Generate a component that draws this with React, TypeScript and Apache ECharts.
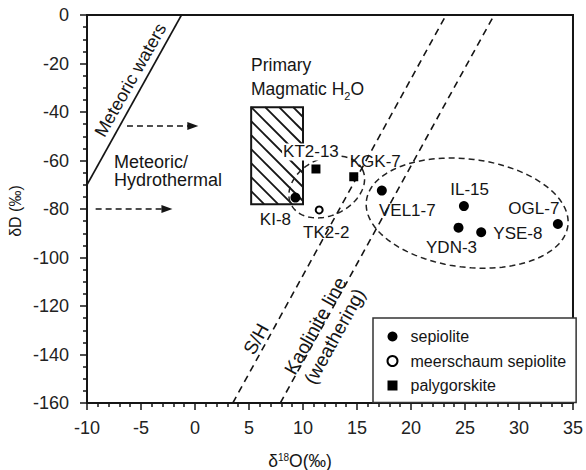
import React, { useEffect, useRef } from 'react';
import * as echarts from 'echarts';

// ---- data ----
const sepioliteNames = ['KI-8', 'VEL1-7', 'IL-15', 'YDN-3', 'YSE-8', 'OGL-7'];
const sepioliteX = [9.3, 17.3, 24.9, 24.4, 26.5, 33.6];
const sepioliteY = [-75.3, -72.4, -78.8, -87.7, -89.6, -86.2];

const meerschaumNames = ['TK2-2'];
const meerschaumX = [11.5];
const meerschaumY = [-80.4];

const palygorskiteNames = ['KT2-13', 'KGK-7'];
const palygorskiteX = [11.2, 14.7];
const palygorskiteY = [-63.5, -66.7];

const xMin = -10;
const xMax = 35;
const xStep = 5;
const yMin = -160;
const yMax = 0;
const yStep = 20;

const meteoricWaterLine = [[-10, -70], [-1.25, 0]];
const shLine = [[3.5, -160], [23.25, 0]];
const kaoliniteLine = [[7.9, -160], [27.7, 0]];
const arrowUpper = [[-6.3, -45.8], [-0.2, -45.8]];
const arrowLower = [[-9.2, -80], [-2.6, -80]];

// x0, y0, x1, y1
const primaryMagmaticBox = [5.2, -38, 10, -78];
// cx, cy, rx, ry (data units), rotation (deg)
const smallEllipse = [12.2, -70.9, 3.68, 11.75, 26];
const bigEllipse = [25.2, -81.7, 9.4, 22.3, -7];

const legendNames = ['sepiolite', 'meerschaum sepiolite', 'palygorskite'];

// ---- style / layout ----
const FONT = "'Liberation Sans', Arial, Helvetica, sans-serif";
const INK = '#151515';

const labelOffset: Record<string, number[]> = {
  'KI-8': [-20, 22],
  'KT2-13': [-5, -17],
  'KGK-7': [21.5, -15],
  'TK2-2': [7, 23],
  'VEL1-7': [25.5, 19.5],
  'IL-15': [5.7, -16.7],
  'OGL-7': [-24, -15.7],
  'YSE-8': [36.7, 1.7],
  'YDN-3': [-7, 19.6],
};

function points(names: string[], xs: number[], ys: number[]) {
  return names.map((n, i) => ({
    name: n,
    value: [xs[i], ys[i]],
    label: {
      show: true,
      position: 'inside',
      offset: labelOffset[n],
      formatter: '{b}',
      color: INK,
      opacity: 1,
      textBorderWidth: 0,
      textBorderColor: 'transparent',
      textShadowBlur: 0,
      fontSize: 17,
      fontFamily: FONT,
      ...(n === 'KT2-13' ? { backgroundColor: '#fff', padding: [0, 1, 0, 1] } : {}),
    },
  }));
}

function buildOption() {
  return {
    animation: false,
    backgroundColor: '#fff',
    grid: {
      left: 87,
      right: 10,
      top: 15,
      bottom: 67,
      show: true,
      borderColor: INK,
      borderWidth: 2,
      backgroundColor: 'transparent',
    },
    xAxis: {
      type: 'value',
      min: xMin,
      max: xMax,
      interval: xStep,
      splitLine: { show: false },
      axisLine: { show: true, onZero: false, lineStyle: { color: INK, width: 2 } },
      axisTick: { show: true, inside: false, length: 7, lineStyle: { color: INK, width: 1.5 } },
      minorTick: { show: true, splitNumber: 5, length: 4, lineStyle: { color: INK, width: 1.5 } },
      axisLabel: { margin: 16, fontSize: 18, color: '#222', fontFamily: FONT },
    },
    yAxis: {
      type: 'value',
      min: yMin,
      max: yMax,
      interval: yStep,
      splitLine: { show: false },
      axisLine: { show: true, onZero: false, lineStyle: { color: INK, width: 2 } },
      axisTick: { show: true, inside: false, length: 7, lineStyle: { color: INK, width: 1.5 } },
      minorTick: { show: true, splitNumber: 4, length: 4, lineStyle: { color: INK, width: 1.5 } },
      axisLabel: { margin: 18, fontSize: 18, color: '#222', fontFamily: FONT },
    },
    legend: {
      data: legendNames,
      orient: 'vertical',
      left: 373,
      top: 318,
      itemWidth: 10,
      itemHeight: 10,
      itemGap: 6.5,
      padding: [9.5, 10, 8, 13.5],
      borderColor: '#333',
      borderWidth: 1.5,
      backgroundColor: '#fff',
      selectedMode: false,
      textStyle: {
        fontSize: 16,
        lineHeight: 18,
        color: INK,
        fontFamily: FONT,
        padding: [0, 0, 0, 8],
      },
    },
    series: [
      {
        type: 'custom',
        name: 'Primary Magmatic H2O',
        silent: true,
        clip: false,
        z: 1,
        data: [primaryMagmaticBox],
        encode: { x: [0, 2], y: [1, 3] },
        renderItem: (params: any, api: any) => {
          const p0 = api.coord([api.value(0), api.value(1)]);
          const p1 = api.coord([api.value(2), api.value(3)]);
          const L = Math.min(p0[0], p1[0]);
          const R = Math.max(p0[0], p1[0]);
          const T = Math.min(p0[1], p1[1]);
          const B = Math.max(p0[1], p1[1]);
          const step = 14;
          const children: any[] = [];
          for (let k = -30; k <= 30; k++) {
            const c = L - T + k * step; // line: y = x - c
            const xa = Math.max(L, T + c);
            const xb = Math.min(R, B + c);
            if (xb - xa > 0.5) {
              children.push({
                type: 'line',
                shape: { x1: xa, y1: xa - c, x2: xb, y2: xb - c },
                style: { stroke: INK, lineWidth: 1.8 },
              });
            }
          }
          children.push({
            type: 'rect',
            shape: { x: L, y: T, width: R - L, height: B - T },
            style: { fill: 'none', stroke: INK, lineWidth: 2 },
          });
          return { type: 'group', children };
        },
      },
      {
        type: 'custom',
        name: 'groups',
        silent: true,
        clip: false,
        z: 2,
        data: [smallEllipse, bigEllipse],
        encode: { x: 0, y: 1 },
        renderItem: (params: any, api: any) => {
          const c = api.coord([api.value(0), api.value(1)]);
          const rx = api.size([api.value(2), 0])[0];
          const ry = api.size([0, api.value(3)])[1];
          const a = (api.value(4) * Math.PI) / 180;
          const pts: number[][] = [];
          const n = 120;
          for (let i = 0; i < n; i++) {
            const t = (i / n) * Math.PI * 2;
            const px = rx * Math.cos(t);
            const py = ry * Math.sin(t);
            pts.push([c[0] + px * Math.cos(a) + py * Math.sin(a), c[1] - px * Math.sin(a) + py * Math.cos(a)]);
          }
          return {
            type: 'polygon',
            shape: { points: pts },
            style: { fill: 'none', stroke: '#222', lineWidth: 1.5, lineDash: [6, 4] },
          };
        },
      },
      {
        type: 'line',
        name: 'Meteoric waters',
        data: meteoricWaterLine,
        symbol: 'none',
        silent: true,
        z: 2,
        lineStyle: { color: INK, width: 1.6, type: 'solid' },
        markLine: {
          silent: true,
          symbol: ['none', 'triangle'],
          symbolSize: [8, 11],
          label: { show: false },
          lineStyle: { color: INK, width: 1.6, type: [6, 4] },
          itemStyle: { color: INK },
          data: [
            [{ coord: arrowUpper[0] }, { coord: arrowUpper[1] }],
            [{ coord: arrowLower[0] }, { coord: arrowLower[1] }],
          ],
        },
      },
      {
        type: 'line',
        name: 'S/H',
        data: shLine,
        symbol: 'none',
        silent: true,
        z: 2,
        lineStyle: { color: INK, width: 1.6, type: [7, 5] },
      },
      {
        type: 'line',
        name: 'Kaolinite line',
        data: kaoliniteLine,
        symbol: 'none',
        silent: true,
        z: 2,
        lineStyle: { color: INK, width: 1.6, type: [7, 5] },
      },
      {
        type: 'scatter',
        name: 'sepiolite',
        z: 5,
        symbol: 'circle',
        symbolSize: 10,
        itemStyle: { color: '#000', opacity: 1 },
        emphasis: { disabled: true },
        data: points(sepioliteNames, sepioliteX, sepioliteY),
      },
      {
        type: 'scatter',
        name: 'meerschaum sepiolite',
        z: 5,
        symbol: 'circle',
        symbolSize: 7,
        itemStyle: { color: '#fff', borderColor: '#000', borderWidth: 2, opacity: 1 },
        emphasis: { disabled: true },
        data: points(meerschaumNames, meerschaumX, meerschaumY),
      },
      {
        type: 'scatter',
        name: 'palygorskite',
        z: 5,
        symbol: 'rect',
        symbolSize: 9,
        itemStyle: { color: '#000', opacity: 1 },
        emphasis: { disabled: true },
        data: points(palygorskiteNames, palygorskiteX, palygorskiteY),
      },
    ],
    graphic: [
      {
        type: 'text',
        x: 130.5,
        y: 80,
        rotation: (60.5 * Math.PI) / 180,
        style: { text: 'Meteoric waters', fontSize: 18, fontFamily: FONT, fill: INK, textAlign: 'center', textVerticalAlign: 'middle' },
      },
      {
        type: 'text',
        x: 114,
        y: 171,
        style: {
          text: 'Meteoric/\nHydrothermal',
          fontSize: 18,
          lineHeight: 18.5,
          fontFamily: FONT,
          fill: INK,
          textAlign: 'left',
          textVerticalAlign: 'middle',
        },
      },
      {
        type: 'text',
        x: 251,
        y: 77,
        style: {
          text: '{a|Primary}\n{a|Magmatic H}{b|2}{a|O}',
          fontFamily: FONT,
          fill: INK,
          textAlign: 'left',
          textVerticalAlign: 'middle',
          rich: {
            a: { fontSize: 17.5, lineHeight: 24, fontFamily: FONT, fill: INK },
            b: { fontSize: 11, lineHeight: 18, verticalAlign: 'bottom', fontFamily: FONT, fill: INK },
          },
        },
      },
      {
        type: 'text',
        x: 256,
        y: 339,
        rotation: (61 * Math.PI) / 180,
        style: { text: 'S/H', fontSize: 19, fontFamily: FONT, fill: INK, textAlign: 'center', textVerticalAlign: 'middle' },
      },
      {
        type: 'text',
        x: 325,
        y: 331,
        rotation: (61 * Math.PI) / 180,
        style: {
          text: 'Kaolinite line\n(weathering)',
          fontSize: 19,
          lineHeight: 22,
          fontFamily: FONT,
          fill: INK,
          textAlign: 'center',
          textVerticalAlign: 'middle',
        },
      },
      {
        type: 'text',
        x: 15,
        y: 211,
        rotation: Math.PI / 2,
        style: { text: 'δD (‰)', fontSize: 16, fontFamily: FONT, fill: INK, textAlign: 'center', textVerticalAlign: 'middle' },
      },
      {
        type: 'text',
        x: 300,
        y: 461,
        style: {
          text: '{d|δ}{s|18}{d|O(‰)}',
          fontFamily: FONT,
          fill: INK,
          textAlign: 'center',
          textVerticalAlign: 'middle',
          rich: {
            d: { fontSize: 17.5, lineHeight: 17, fontFamily: FONT, fill: INK },
            s: { fontSize: 10, lineHeight: 11, verticalAlign: 'top', fontFamily: FONT, fill: INK },
          },
        },
      },
    ],
  };
}

export default function App() {
  const ref = useRef<HTMLDivElement>(null);
  useEffect(() => {
    if (!ref.current) return;
    const chart = echarts.init(ref.current, undefined, { renderer: 'svg' });
    chart.setOption(buildOption() as any);
    return () => {
      chart.dispose();
    };
  }, []);
  return (
    <div
      ref={ref}
      style={{ position: 'fixed', left: 0, top: 0, width: 586, height: 470, background: '#fff' }}
    />
  );
}
